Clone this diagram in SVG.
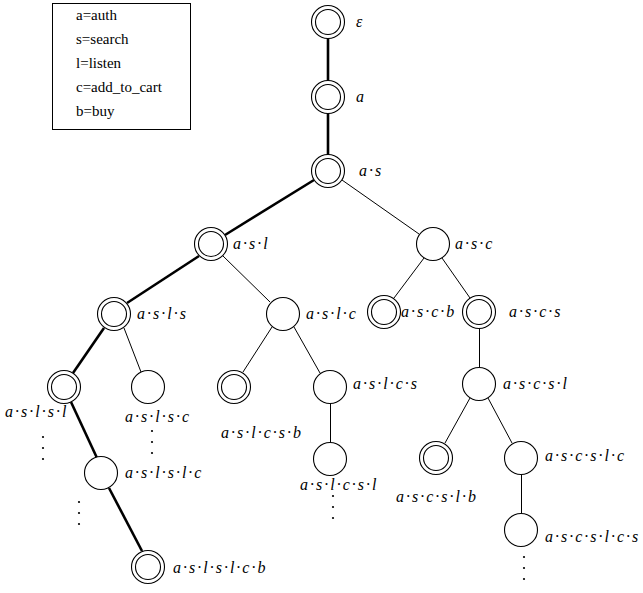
<svg xmlns="http://www.w3.org/2000/svg" width="643" height="593" viewBox="0 0 643 593">
  <style>
    .bg { fill: #ffffff; }
    .ring { fill: #ffffff; stroke: #000000; stroke-width: 1.1; }
    .edge { stroke: #000000; stroke-width: 1; fill: none; }
    .edge.path { stroke-width: 2.6; }
    .lbl { font-family: "Liberation Serif", "DejaVu Serif", serif; font-style: italic; font-size: 16px; letter-spacing: 2px; fill: #000000; }
    .legend-text { font-family: "Liberation Serif", "Times New Roman", serif; font-size: 15px; fill: #000000; }
    .legend-box { fill: #ffffff; stroke: #000000; stroke-width: 1; }
    .dot { fill: #000000; }
  </style>
  <defs>
    <!-- single state -->
    <g id="st">
      <circle class="ring" r="16.5" fill="#ffffff" stroke="#000000" stroke-width="1.1"/>
    </g>
    <!-- accepting state: double ring -->
    <g id="acc">
      <circle class="ring" r="16.5" fill="#ffffff" stroke="#000000" stroke-width="1.1"/>
      <circle class="ring" r="12.5" fill="#ffffff" stroke="#000000" stroke-width="1.1"/>
    </g>
    <!-- vertical ellipsis -->
    <g id="vdots">
      <circle class="dot" cx="0" cy="0" r="1.1" fill="#000000"/>
      <circle class="dot" cx="0" cy="11" r="1.1" fill="#000000"/>
      <circle class="dot" cx="0" cy="22" r="1.1" fill="#000000"/>
    </g>
  </defs>

  <rect class="bg" x="0" y="0" width="643" height="593"/>

  <!-- legend -->
  <g id="legend">
    <rect class="legend-box" x="52.5" y="3.5" width="138" height="126"/>
    <text class="legend-text" x="76" y="20">a=auth</text>
    <text class="legend-text" x="76" y="44">s=search</text>
    <text class="legend-text" x="76" y="68">l=listen</text>
    <text class="legend-text" x="76" y="92">c=add_to_cart</text>
    <text class="legend-text" x="76" y="116">b=buy</text>
  </g>

  <!-- connectors -->
  <g id="edges">
    <line class="edge path" x1="328" y1="38" x2="328" y2="81"/>
    <line class="edge path" x1="328" y1="113" x2="328" y2="155"/>
    <line class="edge path" x1="314" y1="180" x2="225" y2="235"/>
    <line class="edge" x1="342" y1="180" x2="419" y2="234"/>
    <line class="edge path" x1="199" y1="256" x2="127" y2="303"/>
    <line class="edge" x1="223" y1="256" x2="270" y2="302"/>
    <line class="edge" x1="424" y1="258" x2="394" y2="298"/>
    <line class="edge" x1="442" y1="258" x2="470" y2="298"/>
    <line class="edge path" x1="104" y1="328" x2="73" y2="373"/>
    <line class="edge" x1="124" y1="328" x2="141" y2="372"/>
    <line class="edge" x1="272" y1="327" x2="243" y2="372"/>
    <line class="edge" x1="294" y1="327" x2="320" y2="373"/>
    <line class="edge" x1="479.5" y1="329" x2="479.5" y2="367"/>
    <line class="edge" x1="330.5" y1="404" x2="330.5" y2="442"/>
    <line class="edge path" x1="71" y1="402" x2="97" y2="458"/>
    <line class="edge" x1="470" y1="398" x2="445" y2="443"/>
    <line class="edge" x1="488" y1="398" x2="512" y2="443"/>
    <line class="edge" x1="521.5" y1="475" x2="521.5" y2="513"/>
    <line class="edge path" x1="109" y1="488" x2="142" y2="551"/>
  </g>

  <!-- states -->
  <g id="n-eps" class="node">
    <use href="#acc" x="328" y="22"/>
    <text class="lbl" x="356" y="27">ε</text>
  </g>
  <g id="n-a" class="node">
    <use href="#acc" x="328" y="97"/>
    <text class="lbl" x="356" y="102">a</text>
  </g>
  <g id="n-as" class="node">
    <use href="#acc" x="328" y="171"/>
    <text class="lbl" x="359" y="176">a·s</text>
  </g>
  <g id="n-asl" class="node">
    <use href="#acc" x="211" y="244"/>
    <text class="lbl" x="233" y="249">a·s·l</text>
  </g>
  <g id="n-asc" class="node">
    <use href="#st" x="433" y="244"/>
    <text class="lbl" x="455" y="249">a·s·c</text>
  </g>
  <g id="n-asls" class="node">
    <use href="#acc" x="114" y="314"/>
    <text class="lbl" x="137" y="319">a·s·l·s</text>
  </g>
  <g id="n-aslc" class="node">
    <use href="#st" x="283" y="314"/>
    <text class="lbl" x="306" y="319">a·s·l·c</text>
  </g>
  <g id="n-ascb" class="node">
    <use href="#acc" x="384" y="312"/>
    <text class="lbl" x="401" y="317">a·s·c·b</text>
  </g>
  <g id="n-ascs" class="node">
    <use href="#acc" x="479" y="312"/>
    <text class="lbl" x="509" y="317">a·s·c·s</text>
  </g>
  <g id="n-aslsl" class="node">
    <use href="#acc" x="64" y="387"/>
    <text class="lbl" x="5" y="417">a·s·l·s·l</text>
  </g>
  <g id="n-aslsc" class="node">
    <use href="#st" x="148" y="387"/>
    <text class="lbl" x="125" y="422">a·s·l·s·c</text>
  </g>
  <g id="n-aslcsb" class="node">
    <use href="#acc" x="234" y="387"/>
    <text class="lbl" x="221" y="438">a·s·l·c·s·b</text>
  </g>
  <g id="n-aslcs" class="node">
    <use href="#st" x="330" y="387"/>
    <text class="lbl" x="353" y="389">a·s·l·c·s</text>
  </g>
  <g id="n-ascsl" class="node">
    <use href="#st" x="479" y="384"/>
    <text class="lbl" x="503" y="389">a·s·c·s·l</text>
  </g>
  <g id="n-aslslc" class="node">
    <use href="#st" x="101" y="473"/>
    <text class="lbl" x="125" y="478">a·s·l·s·l·c</text>
  </g>
  <g id="n-aslcsl" class="node">
    <use href="#st" x="330" y="459"/>
    <text class="lbl" x="300" y="490">a·s·l·c·s·l</text>
  </g>
  <g id="n-ascslb" class="node">
    <use href="#acc" x="436" y="458"/>
    <text class="lbl" x="396" y="502">a·s·c·s·l·b</text>
  </g>
  <g id="n-ascslc" class="node">
    <use href="#st" x="521" y="458"/>
    <text class="lbl" x="545" y="461">a·s·c·s·l·c</text>
  </g>
  <g id="n-ascslcs" class="node">
    <use href="#st" x="521" y="530"/>
    <text class="lbl" x="545" y="542">a·s·c·s·l·c·s</text>
  </g>
  <g id="n-aslslcb" class="node">
    <use href="#acc" x="148" y="567"/>
    <text class="lbl" x="173" y="573">a·s·l·s·l·c·b</text>
  </g>

  <!-- continuation marks -->
  <g id="ellipses">
    <use href="#vdots" x="43" y="437"/>
    <use href="#vdots" x="152" y="431"/>
    <use href="#vdots" x="79" y="502"/>
    <use href="#vdots" x="333" y="496"/>
    <use href="#vdots" x="524" y="557"/>
  </g>
</svg>
